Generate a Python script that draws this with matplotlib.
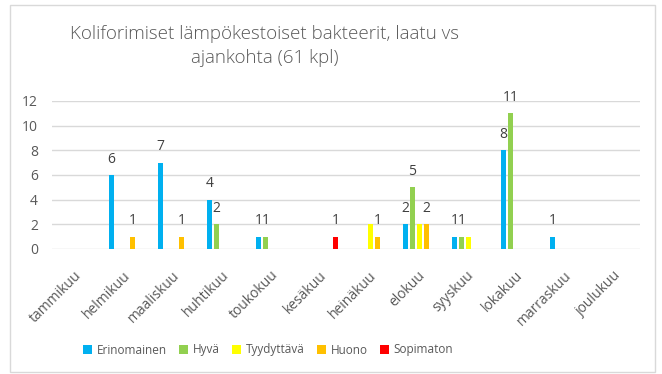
import numpy as np
import matplotlib.pyplot as plt
from matplotlib.patches import Rectangle
from matplotlib.transforms import ScaledTranslation

plt.rcParams['font.family'] = ['Open Sans', 'DejaVu Sans']

# --- Data: counts per month and quality class ---
months = ['tammikuu', 'helmikuu', 'maaliskuu', 'huhtikuu', 'toukokuu', 'kesäkuu',
          'heinäkuu', 'elokuu', 'syyskuu', 'lokakuu', 'marraskuu', 'joulukuu']
erinomainen = [0, 6, 7, 4, 1, 0, 0, 2, 1, 8, 1, 0]
hyva        = [0, 0, 0, 2, 1, 0, 0, 5, 1, 11, 0, 0]
tyydyttava  = [0, 0, 0, 0, 0, 0, 2, 2, 1, 0, 0, 0]
huono       = [0, 1, 1, 0, 0, 0, 1, 2, 0, 0, 0, 0]
sopimaton   = [0, 0, 0, 0, 0, 1, 0, 0, 0, 0, 0, 0]

# (name, values, colour, show value labels)
series = [
    ('Erinomainen', erinomainen, '#00B0F0', True),
    ('Hyvä', hyva, '#92D050', True),
    ('Tyydyttävä', tyydyttava, '#FFFF00', False),
    ('Huono', huono, '#FFC000', True),
    ('Sopimaton', sopimaton, '#FF0000', True),
]

text_col = '#595959'
fig = plt.figure(figsize=(6.62, 3.74), dpi=100)

# outer chart frame
fig.patches.append(Rectangle((10 / 662, 2 / 374), 645 / 662, 367 / 374,
                             transform=fig.transFigure, fill=False,
                             edgecolor='#D9D9D9', linewidth=1))

ax = fig.add_axes([52 / 662, 1 - 249 / 374, 588 / 662, 148 / 374])

x = np.arange(len(months))
slot = 1 / 7
width = slot * 0.8
for i, (name, vals, col, labelled) in enumerate(series):
    pos = x + (i - 2) * slot
    ax.bar(pos, vals, width=width, color=col, label=name, zorder=3)
    if not labelled:
        continue
    for j, v in enumerate(vals):
        if v > 0:
            ax.annotate(str(v), (pos[j], v), xytext=(0, 6), textcoords='offset points',
                        ha='center', va='bottom', fontsize=10, color='#404040')

ax.set_xlim(-0.5, len(months) - 0.5)
ax.set_ylim(0, 12)
ax.set_yticks(range(0, 13, 2))
ax.yaxis.grid(True, color='#D9D9D9', linewidth=1, zorder=0)
for s in ax.spines.values():
    s.set_visible(False)
ax.tick_params(axis='both', length=0, colors=text_col, labelsize=10)
ax.tick_params(axis='y', pad=10)
ax.set_xticks(x)
ax.set_xticklabels(months, rotation=45, ha='right', rotation_mode='anchor', fontsize=10)
for lbl in ax.get_xticklabels():
    lbl.set_transform(lbl.get_transform() + ScaledTranslation(-2 / 100, -14 / 100, fig.dpi_scale_trans))

fig.text(265 / 662, 1 - 34 / 374, 'Koliforimiset lämpökestoiset bakteerit, laatu vs',
         ha='center', va='center', fontsize=13.5, color=text_col, fontweight='light')
fig.text(265 / 662, 1 - 58 / 374, 'ajankohta (61 kpl)',
         ha='center', va='center', fontsize=13.5, color=text_col, fontweight='light')

fig.legend(loc='center', bbox_to_anchor=(268 / 662, 1 - 350 / 374), ncol=5,
           frameon=False, fontsize=8.5, labelcolor=text_col, handlelength=0.8,
           handleheight=0.8, handletextpad=0.4, columnspacing=1.0)

fig.savefig('out.png', dpi=100)
